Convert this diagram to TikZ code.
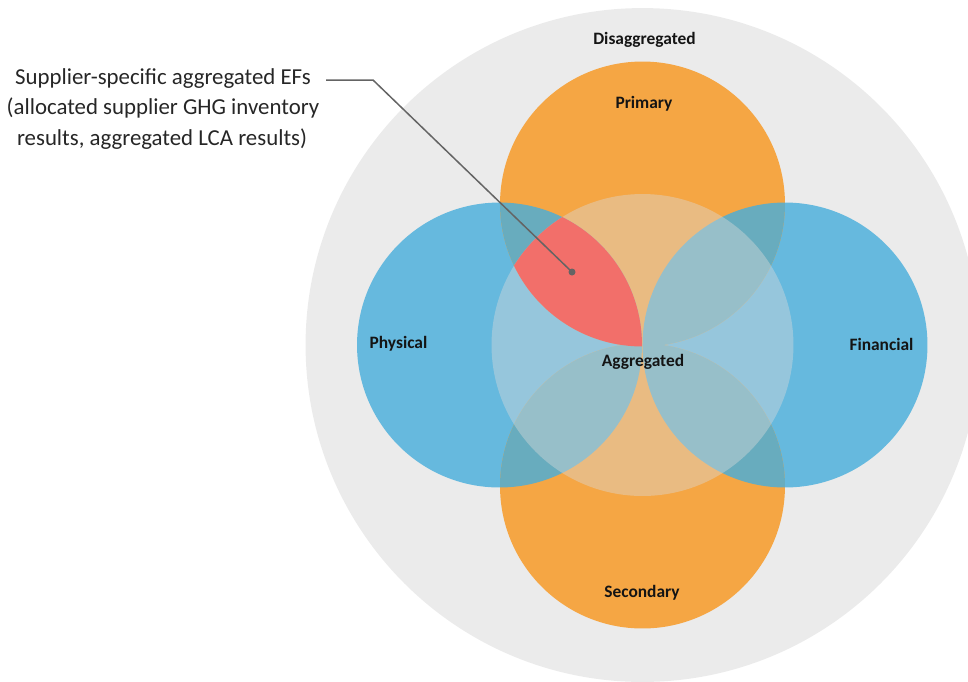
\documentclass[tikz,border=0pt]{standalone}
\usepackage{fontspec}
\setmainfont{Carlito}
\usetikzlibrary{positioning}

\definecolor{ringgray}{RGB}{235,235,235}
\definecolor{scopeorange}{RGB}{245,166,68}
\definecolor{basisblue}{RGB}{102,185,222}
\definecolor{mixteal}{RGB}{104,172,190}
\definecolor{veilgray}{RGB}{218,218,218}
\definecolor{supplierred}{RGB}{242,111,106}
\definecolor{leadgray}{RGB}{100,100,100}
\definecolor{labelink}{RGB}{20,20,20}

\begin{document}
\begin{tikzpicture}[
    x=0.02cm, y=-0.02cm,
    tag/.style={text=labelink, font=\bfseries\fontsize{9.9}{12}\selectfont, inner sep=0pt},
    callout/.style={text=black!85, font=\fontsize{13}{16}\selectfont, inner sep=0pt, anchor=base},
    leader/.style={draw=leadgray, line width=0.85pt},
    pinhead/.style={circle, fill=leadgray, inner sep=0pt, minimum size=0.14cm}
]
\useasboundingbox (0,0) rectangle (968,681);
\clip (0,0) rectangle (968,681);

% Circle centres
\coordinate (ctr) at (642.5,345);
\coordinate (prim) at (642.5,204);
\coordinate (sec) at (642.5,486);
\coordinate (phys) at (499.5,345);
\coordinate (fin) at (785,345);

% Outer ring
\fill[ringgray] (ctr) circle[radius=6.74cm];

% Physical / Financial
\fill[basisblue] (phys) circle[radius=2.85cm];
\fill[basisblue] (fin) circle[radius=2.85cm];

% Primary / Secondary
\fill[scopeorange] (prim) circle[radius=2.85cm];
\fill[scopeorange] (sec) circle[radius=2.85cm];

% Overlaps
\foreach \o in {prim,sec}{
  \foreach \b in {phys,fin}{
    \begin{scope}
      \clip (\o) circle[radius=2.85cm];
      \fill[mixteal] (\b) circle[radius=2.85cm];
    \end{scope}
  }
}

% Aggregated veil
\fill[veilgray, fill opacity=0.42] (ctr) circle[radius=3.02cm];

% Supplier-specific region
\begin{scope}
  \clip (ctr) circle[radius=3.02cm];
  \clip (prim) circle[radius=2.85cm];
  \fill[supplierred] (phys) circle[radius=2.85cm];
\end{scope}

% Labels
\node[tag] (disagg) at (644.5,40) {Disaggregated};
\node[tag] (primary) at (644,104) {Primary};
\node[tag] (agg) at (643,362) {Aggregated};
\node[tag] (secondary) at (642,593) {Secondary};
\node[tag] (physical) at (398.5,344) {Physical};
\node[tag] (financial) at (881.5,344) {Financial};

% Callout
\node[callout] (ef1) at (163,84) {Supplier-specific aggregated EFs};
\node[callout] (ef2) at (163,114.5) {(allocated supplier GHG inventory};
\node[callout] (ef3) at (162,145) {results, aggregated LCA results)};

\coordinate (lead) at (326,80);
\coordinate (bend) at (373,80);
\node[pinhead] (pin) at (572,272) {};
\draw[leader] (lead) -- (bend) -- (pin.center);

\end{tikzpicture}
\end{document}
